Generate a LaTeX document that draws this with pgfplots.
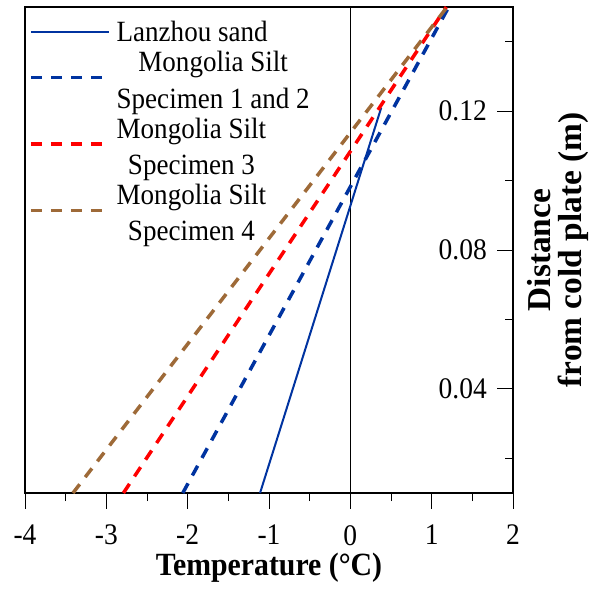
\documentclass[border=0pt]{standalone}
\usepackage{fontspec}
\setmainfont{Liberation Serif}[FakeStretch=0.92]
\newfontfamily\labfont{Liberation Serif}
\usepackage{pgfplots}
\pgfplotsset{compat=1.18}
\definecolor{cblue}{RGB}{0,51,160}
\definecolor{cred}{RGB}{255,0,0}
\definecolor{cbrown}{RGB}{158,106,56}
\pgfplotsset{lowimg/.style={legend image code/.code={\draw[##1] (0bp,-15.5bp) -- (78bp,-15.5bp);}}}
% centre #2 in a box as wide as #1
\newcommand{\cbox}[2]{\setbox0\hbox{#1}\makebox[\wd0][c]{#2}}
\begin{document}
\begin{tikzpicture}
\begin{axis}[
 scale only axis, width=488bp, height=486bp,
 xmin=-4, xmax=2, ymin=0.01, ymax=0.15,
 axis line style={line width=1.2bp},
 xtick={-4,-3,...,2}, minor xtick={-3.5,-2.5,...,1.5},
 xtick pos=bottom, xtick align=outside,
 ytick={0.04,0.08,0.12}, minor ytick={0.02,0.06,0.10,0.14},
 ytick pos=right, ytick align=inside, yticklabel pos=right,
 major tick length=16bp, minor tick length=8bp,
 tick style={line width=0.8bp, black},
 /pgf/number format/assume math mode=true,
 ticklabel style={font=\fontsize{30}{30}\selectfont},
 xticklabel style={anchor=north, inner sep=0pt, yshift=-16bp},
 yticklabel style={anchor=east, inner sep=0pt, xshift=-26bp,
   /pgf/number format/fixed, /pgf/number format/precision=2, /pgf/number format/fixed zerofill},
 xlabel={Temperature (°C)},
 xlabel style={at={(axis description cs:0.5,0)}, anchor=base, yshift=-82bp, inner sep=0pt,
   font=\fontsize{32.5}{32}\selectfont\bfseries},
 ylabel={Distance\\from cold plate (m)},
 ylabel style={at={(axis description cs:1.0287,0.5)}, anchor=north, inner sep=0pt, align=center,
   font=\labfont\bfseries\fontsize{33.5}{31}\selectfont},
 legend style={draw=none, fill=none, at={(axis description cs:0,1)}, anchor=north west,
   xshift=4bp, yshift=-14bp, font=\fontsize{29.5}{29}\selectfont, row sep=8.2bp, column sep=4bp,
   inner sep=0pt, nodes={inner ysep=0pt}},
 legend cell align=left,
 legend image code/.code={\draw[#1] (0bp,0bp) -- (78bp,0bp);},
]
\addplot[black, line width=0.8bp, forget plot] coordinates {(0,0.01) (0,0.15)};
\addplot[cblue, line width=2bp, forget plot] coordinates {(-1.11,0.01) (0.38,0.121)};
\addplot[cblue, line width=3.5bp, dash pattern=on 11bp off 9bp, forget plot] coordinates {(-2.06,0.01) (1.21,0.15)};
\addplot[cred, line width=3.5bp, dash pattern=on 11bp off 9bp, forget plot] coordinates {(-2.79,0.01) (1.18,0.15)};
\addplot[cbrown, line width=3.5bp, dash pattern=on 11bp off 9bp, forget plot] coordinates {(-3.41,0.01) (1.19,0.15)};
\addlegendimage{cblue, line width=2bp}
\addlegendentry{\strut Lanzhou sand}
\addlegendimage{cblue, line width=3.5bp, dash pattern=on 11bp off 9bp, lowimg}
\addlegendentry{\strut\cbox{Specimen 1 and 2}{Mongolia Silt}}
\addlegendimage{empty legend}
\addlegendentry{\strut Specimen 1 and 2}
\addlegendimage{cred, line width=3.5bp, dash pattern=on 11bp off 9bp, lowimg}
\addlegendentry{\strut Mongolia Silt}
\addlegendimage{empty legend}
\addlegendentry{\strut\cbox{Mongolia Silt}{Specimen 3}}
\addlegendimage{cbrown, line width=3.5bp, dash pattern=on 11bp off 9bp, lowimg}
\addlegendentry{\strut Mongolia Silt}
\addlegendimage{empty legend}
\addlegendentry{\strut\cbox{Mongolia Silt}{Specimen 4}}
\end{axis}
\pgfresetboundingbox
\path[use as bounding box] (-25bp,-99bp) rectangle (565bp,493bp);
\end{tikzpicture}
\end{document}
